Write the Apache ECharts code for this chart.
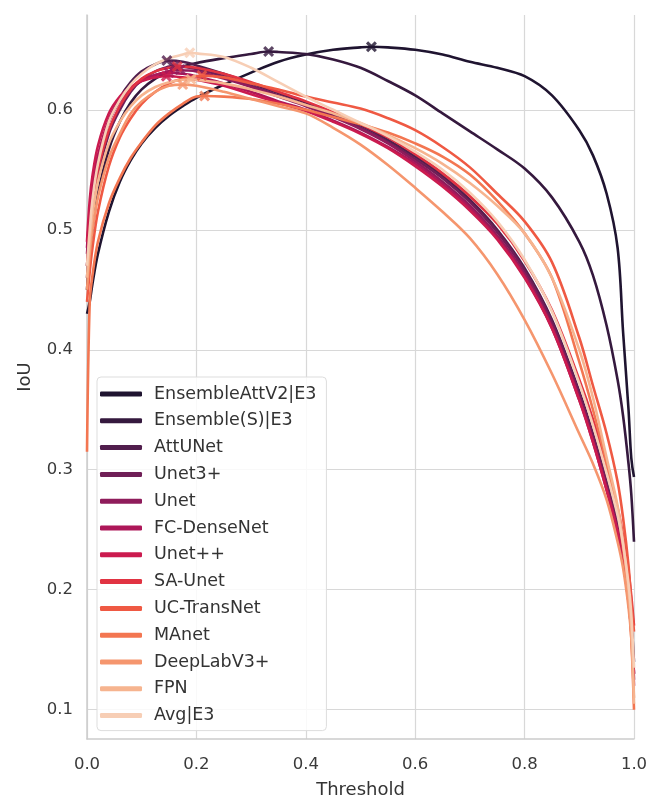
<!DOCTYPE html>
<html>
<head>
<meta charset="utf-8">
<script src="https://cdn.jsdelivr.net/npm/echarts@6/dist/echarts.min.js"></script>
<style>
html,body{margin:0;padding:0;background:#fff;}
#chart{width:661px;height:800px;}
</style>
</head>
<body>
<div id="chart"></div>
<script>
const thresholds = [0, 0.005, 0.01, 0.02, 0.04, 0.06, 0.08, 0.1, 0.125, 0.15, 0.175, 0.2, 0.25, 0.3, 0.35, 0.4, 0.45, 0.5, 0.55, 0.6, 0.65, 0.7, 0.75, 0.8, 0.85, 0.9, 0.925, 0.95, 0.97, 0.98, 0.99, 0.995, 1.0];

const modelNames = ["EnsembleAttV2|E3", "Ensemble(S)|E3", "AttUNet", "Unet3+", "Unet", "FC-DenseNet", "Unet++", "SA-Unet", "UC-TransNet", "MAnet", "DeepLabV3+", "FPN", "Avg|E3"];

const iouEnsembleAttV2 = [0.43,0.44,0.455,0.48,0.515,0.54,0.558,0.572,0.585,0.595,0.603,0.61,0.621,0.631,0.64,0.646,0.65,0.652,0.652,0.65,0.646,0.64,0.635,0.628,0.612,0.583,0.562,0.53,0.485,0.415,0.35,0.31,0.294];
const iouEnsembleS = [0.45,0.48,0.5,0.53,0.567,0.59,0.606,0.617,0.626,0.632,0.636,0.639,0.643,0.6465,0.6482,0.6465,0.642,0.635,0.624,0.612,0.597,0.582,0.567,0.551,0.527,0.49,0.462,0.42,0.375,0.345,0.305,0.28,0.24];
const iouAttUNet = [0.47,0.5,0.525,0.555,0.59,0.61,0.623,0.632,0.638,0.641,0.64,0.637,0.63,0.622,0.614,0.606,0.597,0.587,0.575,0.561,0.545,0.525,0.5,0.468,0.425,0.365,0.33,0.29,0.255,0.23,0.2,0.175,0.14];
const iouUnet3p = [0.46,0.49,0.515,0.545,0.58,0.6,0.615,0.625,0.632,0.636,0.636,0.634,0.628,0.62,0.612,0.604,0.595,0.585,0.573,0.559,0.543,0.523,0.498,0.466,0.423,0.363,0.328,0.288,0.252,0.228,0.195,0.17,0.13];
const iouUnet = [0.48,0.51,0.535,0.56,0.59,0.607,0.617,0.624,0.629,0.632,0.633,0.632,0.626,0.619,0.611,0.603,0.594,0.584,0.572,0.557,0.54,0.52,0.495,0.463,0.42,0.36,0.325,0.285,0.25,0.225,0.193,0.168,0.125];
const iouFCDenseNet = [0.485,0.515,0.538,0.562,0.592,0.608,0.618,0.625,0.629,0.631,0.63,0.628,0.622,0.615,0.607,0.6,0.591,0.581,0.569,0.555,0.538,0.518,0.493,0.461,0.418,0.358,0.323,0.283,0.248,0.223,0.19,0.165,0.12];
const iouUnetpp = [0.49,0.525,0.545,0.57,0.597,0.611,0.619,0.624,0.627,0.628,0.627,0.625,0.62,0.613,0.606,0.599,0.59,0.58,0.568,0.553,0.536,0.516,0.492,0.46,0.418,0.358,0.323,0.283,0.248,0.223,0.19,0.165,0.13];
const iouSAUnet = [0.47,0.5,0.522,0.55,0.583,0.603,0.617,0.626,0.632,0.635,0.636,0.635,0.63,0.623,0.615,0.607,0.598,0.588,0.577,0.563,0.547,0.528,0.505,0.474,0.433,0.375,0.342,0.303,0.268,0.245,0.215,0.195,0.17];
const iouUCTransNet = [0.44,0.465,0.485,0.515,0.553,0.577,0.593,0.605,0.615,0.622,0.626,0.628,0.627,0.622,0.617,0.611,0.606,0.601,0.593,0.583,0.569,0.552,0.53,0.507,0.473,0.41,0.37,0.33,0.29,0.26,0.22,0.19,0.165];
const iouMAnet = [0.315,0.44,0.462,0.49,0.522,0.543,0.56,0.573,0.587,0.597,0.605,0.611,0.611,0.609,0.605,0.6,0.594,0.588,0.581,0.572,0.561,0.546,0.524,0.497,0.46,0.39,0.35,0.305,0.265,0.235,0.195,0.16,0.1];
const iouDeepLabV3p = [0.45,0.48,0.5,0.527,0.56,0.58,0.597,0.607,0.615,0.62,0.621,0.62,0.615,0.609,0.603,0.597,0.585,0.571,0.554,0.535,0.515,0.493,0.463,0.425,0.38,0.33,0.305,0.275,0.24,0.218,0.185,0.16,0.11];
const iouFPN = [0.46,0.49,0.512,0.54,0.572,0.59,0.603,0.612,0.619,0.623,0.625,0.625,0.622,0.617,0.611,0.604,0.597,0.589,0.579,0.568,0.555,0.539,0.52,0.497,0.46,0.4,0.36,0.31,0.27,0.24,0.2,0.17,0.105];
const iouAvgE3 = [0.47,0.5,0.525,0.555,0.59,0.608,0.621,0.63,0.638,0.643,0.646,0.647,0.644,0.635,0.623,0.611,0.6,0.589,0.578,0.565,0.55,0.531,0.507,0.475,0.432,0.372,0.337,0.297,0.262,0.238,0.205,0.18,0.135];

// best threshold (marked with X) for each model
const peakThr = [0.52, 0.332, 0.146, 0.16, 0.17, 0.15, 0.145, 0.165, 0.21, 0.215, 0.175, 0.19, 0.188];
const peakIoU = [0.6525, 0.6486, 0.641, 0.637, 0.6335, 0.631, 0.628, 0.636, 0.6285, 0.6115, 0.621, 0.6255, 0.6475];

const yTickLabels = ["0.1", "0.2", "0.3", "0.4", "0.5", "0.6"];
const xTickLabels = ["0.0", "0.2", "0.4", "0.6", "0.8", "1.0"];

const allIoU = [iouEnsembleAttV2, iouEnsembleS, iouAttUNet, iouUnet3p, iouUnet, iouFCDenseNet, iouUnetpp, iouSAUnet, iouUCTransNet, iouMAnet, iouDeepLabV3p, iouFPN, iouAvgE3];

const palette = ["#1f1430", "#35193e", "#511e4d", "#701f57", "#8f1c5b", "#ad1759", "#cb1b4f", "#e13342", "#ef5943", "#f37651", "#f5966e", "#f6b48f", "#f7ceb5"];

const FONT = "DejaVu Sans";
const xMark = 'path://M2,0 L5,3 L8,0 L10,2 L7,5 L10,8 L8,10 L5,7 L2,10 L0,8 L3,5 L0,2 Z';

function buildData(vals, px, py) {
  const pts = thresholds.map((t, i) => [t, vals[i]]);
  pts.push([px, py]);
  pts.sort((a, b) => a[0] - b[0]);
  return pts;
}

const series = modelNames.map((name, i) => ({
  name: name,
  type: 'line',
  data: buildData(allIoU[i], peakThr[i], peakIoU[i]),
  showSymbol: false,
  symbol: 'none',
  smooth: 0.35,
  color: palette[i],
  lineStyle: { width: 2.6, color: palette[i] },
  emphasis: { disabled: true },
  z: 2
}));

series.push({
  name: 'best',
  type: 'scatter',
  symbol: xMark,
  symbolSize: 11,
  z: 5,
  data: peakThr.map((t, i) => ({ value: [t, peakIoU[i]], itemStyle: { color: palette[i] } }))
});

const chart = echarts.init(document.getElementById('chart'), null, { renderer: 'canvas' });
chart.setOption({
  animation: false,
  backgroundColor: '#ffffff',
  grid: { left: 87, right: 27, top: 15, bottom: 61, containLabel: false, outerBoundsMode: 'none' },
  xAxis: {
    type: 'value',
    min: 0, max: 1, interval: 0.2,
    name: 'Threshold',
    nameLocation: 'middle',
    nameGap: 42,
    nameTextStyle: { fontFamily: FONT, fontSize: 18, color: '#333' },
    axisLine: { show: true, lineStyle: { color: '#cccccc', width: 1.5 } },
    axisTick: { show: false },
    axisLabel: {
      fontFamily: FONT, fontSize: 16.5, color: '#3a3a3a', margin: 17,
      formatter: v => xTickLabels[Math.round(v / 0.2)] || ''
    },
    splitLine: { show: true, lineStyle: { color: '#d8d8d8', width: 1.2 } }
  },
  yAxis: {
    type: 'value',
    min: 0.0756, max: 0.679, splitNumber: 6,
    name: 'IoU',
    nameLocation: 'middle',
    nameGap: 53,
    nameTextStyle: { fontFamily: FONT, fontSize: 18, color: '#333' },
    axisLine: { show: true, lineStyle: { color: '#cccccc', width: 1.5 } },
    axisTick: { show: false },
    axisLabel: {
      fontFamily: FONT, fontSize: 16.5, color: '#3a3a3a', margin: 14,
      showMinLabel: false, showMaxLabel: false,
      formatter: v => {
        const k = Math.round(v * 10);
        if (Math.abs(v * 10 - k) > 1e-6) return '';
        return yTickLabels[k - 1] || '';
      }
    },
    splitLine: { show: true, showMinLine: false, showMaxLine: false, lineStyle: { color: '#d8d8d8', width: 1.2 } }
  },
  legend: {
    data: modelNames,
    orient: 'vertical',
    left: 97, top: 377,
    icon: 'roundRect',
    itemWidth: 42, itemHeight: 5,
    itemGap: 8.8,
    padding: [8, 10, 6, 3],
    backgroundColor: 'rgba(255,255,255,0.85)',
    borderColor: '#dddddd', borderWidth: 1, borderRadius: 4,
    textStyle: { fontFamily: FONT, fontSize: 17.5, color: '#333', lineHeight: 18, padding: [0, 0, 0, 7] }
  },
  series: series
});
</script>
</body>
</html>
